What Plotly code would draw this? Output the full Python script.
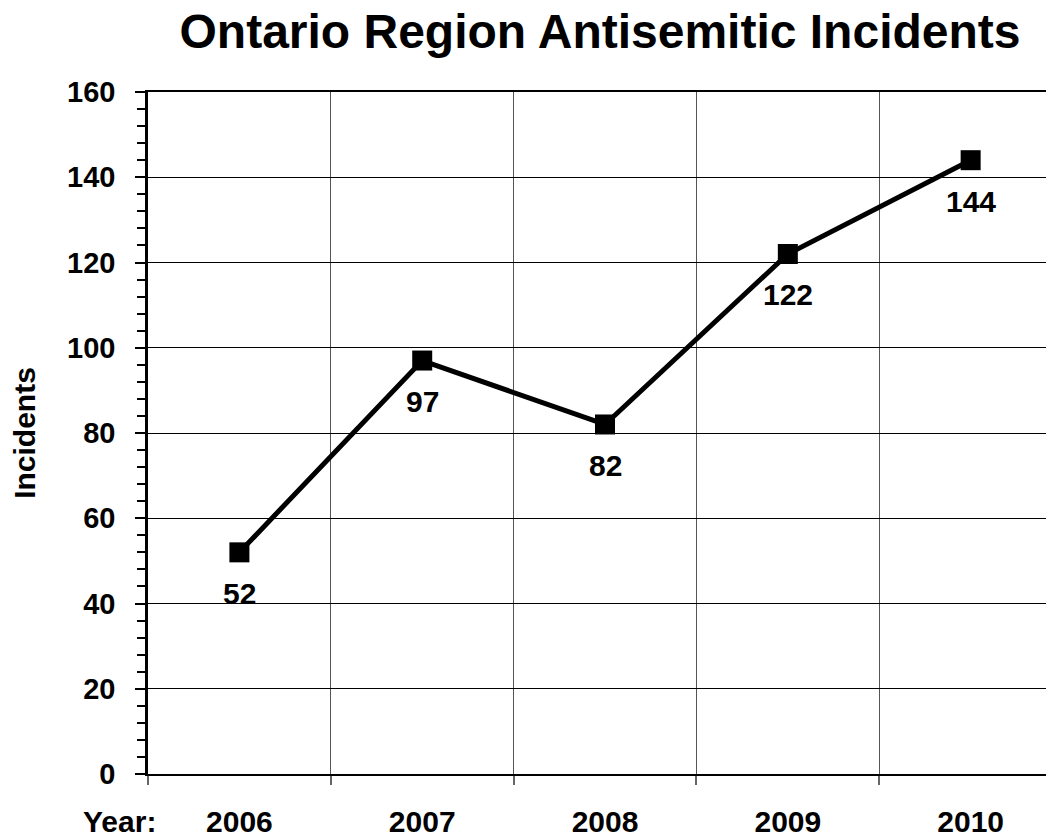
import plotly.graph_objects as go

years = ["2006", "2007", "2008", "2009", "2010"]
incidents = [52, 97, 82, 122, 144]
y_ticks = [0, 20, 40, 60, 80, 100, 120, 140, 160]

FONT = "Liberation Sans, Arial, sans-serif"
W, H = 1046, 829  # page adds an 8px body margin

fig = go.Figure()
fig.add_trace(go.Scatter(
    x=years, y=incidents, mode="lines+markers",
    line=dict(color="black", width=5),
    marker=dict(symbol="square", size=20, color="black"),
    showlegend=False, hoverinfo="x+y",
))

for i, v in enumerate(incidents):
    fig.add_annotation(x=i, y=v, text=str(v), showarrow=False,
                       yshift=-41, font=dict(family=FONT, size=30, color="black", weight="bold"))

fig.add_annotation(xref="paper", yref="paper", x=-0.031, y=-0.069,
                   text="Year:", showarrow=False, xanchor="center", yanchor="middle",
                   font=dict(family=FONT, size=30, color="black", weight="bold"))

fig.update_layout(
    width=W, height=H,
    margin=dict(l=140, r=0, t=84, b=63),
    paper_bgcolor="white", plot_bgcolor="white",
    font=dict(family=FONT, color="black"),
    title=dict(text="Ontario Region Antisemitic Incidents",
               x=592/W, xanchor="center", y=1-23/H, yanchor="middle",
               font=dict(family=FONT, size=48, color="black", weight="bold")),
)

fig.update_xaxes(
    type="category", range=[-0.5, 4.456],
    tickson="boundaries", ticks="outside", ticklen=9, tickcolor="#666", tickwidth=1.5,
    showgrid=True, gridcolor="#555", gridwidth=1,
    showline=True, linecolor="black", linewidth=2, mirror=True,
    tickfont=dict(family=FONT, size=30, color="black", weight="bold"),
    ticklabelstandoff=20,
    zeroline=False,
)

fig.update_yaxes(
    range=[0, 160], tickvals=y_ticks,
    ticks="outside", ticklen=10, tickwidth=2, tickcolor="black",
    minor=dict(dtick=4, tick0=0, ticks="outside", ticklen=8, tickwidth=2, tickcolor="black", showgrid=False),
    showgrid=True, gridcolor="black", gridwidth=1,
    showline=True, linecolor="black", linewidth=2.5,
    zeroline=False,
    tickfont=dict(family=FONT, size=29, color="black", weight="bold"),
    ticklabelstandoff=14,
    title=dict(text="Incidents", font=dict(family=FONT, size=30, color="black", weight="bold"), standoff=27),
)

fig.write_html("out.html")
